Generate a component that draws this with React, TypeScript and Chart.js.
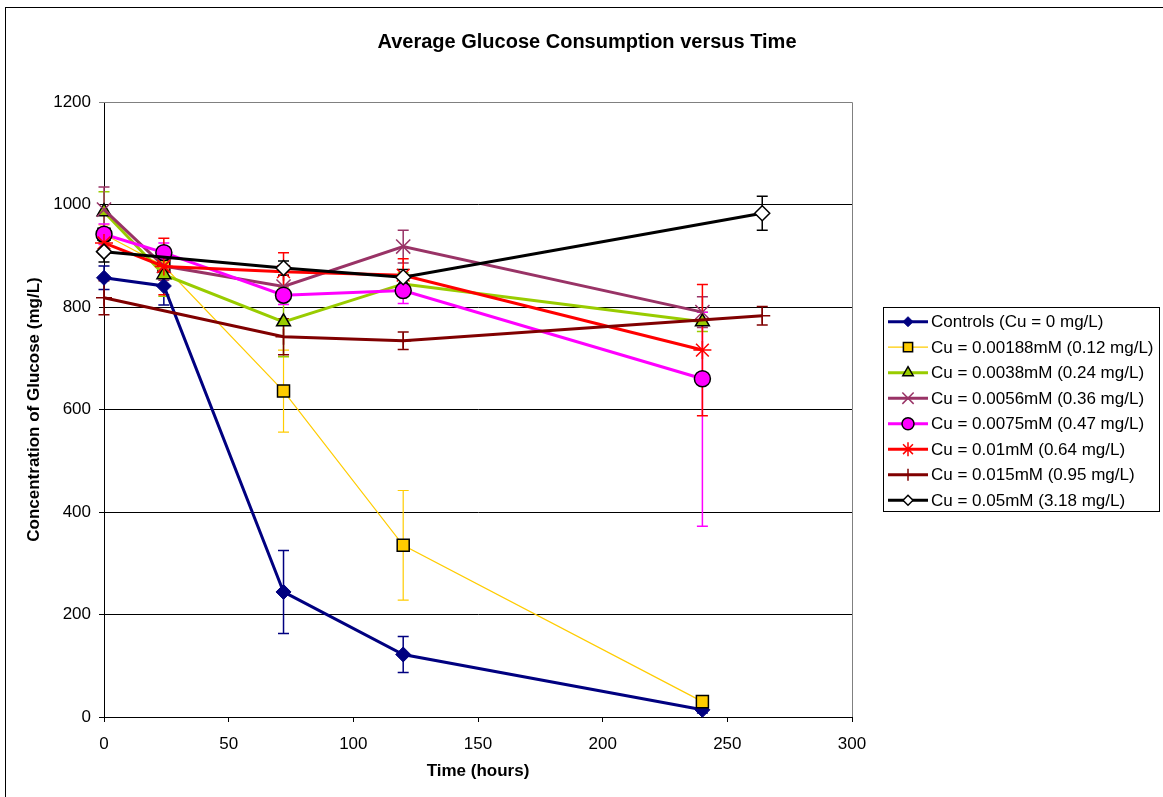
import React, { useEffect, useRef } from 'react';
import { Chart, registerables } from 'chart.js';
import { drawPoint } from 'chart.js/helpers';

Chart.register(...registerables);

const FONT = "'Liberation Sans', Arial, sans-serif";

const chartTitle = 'Average Glucose Consumption versus Time';
const xTitle = 'Time (hours)';
const yTitle = 'Concentration of Glucose (mg/L)';

const xTickMax = 300;
const xTickStep = 50;
const yTickMax = 1200;
const yTickStep = 200;

const timesMain = [0, 24, 72, 120, 240];
const timesDarkRed = [0, 72, 120, 264];
const timesBlack = [0, 72, 120, 264];

const controls = [857, 841, 244, 122, 14];
const controlsErr = [23, 37, 81, 35, 6];
const cu00188 = [942, 880, 636, 335, 30];
const cu00188Err = [18, 22, 80, 107, 6];
const cu0038 = [986, 863, 771, 845, 771];
const cu0038Err = [39, 42, 68, 22, 19];
const cu0056 = [990, 880, 840, 918, 790];
const cu0056Err = [44, 28, 22, 32, 30];
const cu0075 = [942, 906, 823, 832, 660];
const cu0075ErrUp = [20, 19, 18, 25, 130];
const cu0075ErrDown = [20, 19, 18, 25, 288];
const cu01 = [925, 879, 869, 862, 716];
const cu01Err = [22, 55, 37, 32, 128];
const cu015 = [818, 742, 734, 783];
const cu015Err = [33, 35, 17, 18];
const cu05 = [908, 876, 858, 983];
const cu05Err = [20, 14, 15, 33];

const seriesLabels = [
  'Controls (Cu = 0 mg/L)',
  'Cu = 0.00188mM (0.12 mg/L)',
  'Cu = 0.0038mM (0.24 mg/L)',
  'Cu = 0.0056mM (0.36 mg/L)',
  'Cu = 0.0075mM (0.47 mg/L)',
  'Cu = 0.01mM (0.64 mg/L)',
  'Cu = 0.015mM (0.95 mg/L)',
  'Cu = 0.05mM (3.18 mg/L)',
];

type Series = {
  label: string;
  xs: number[];
  ys: number[];
  up: number[];
  down: number[];
  color: string;
  lineWidth: number;
  errWidth: number;
  pointStyle: string;
  radius: number;
  legendRadius: number;
  bg: string;
  border: string;
  borderW: number;
};

const series: Series[] = [
  { label: seriesLabels[0], xs: timesMain, ys: controls, up: controlsErr, down: controlsErr, color: '#000080', lineWidth: 3, errWidth: 1.5, pointStyle: 'rectRot', radius: 7.5, legendRadius: 5, bg: '#000080', border: '#000080', borderW: 1 },
  { label: seriesLabels[1], xs: timesMain, ys: cu00188, up: cu00188Err, down: cu00188Err, color: '#FFCC00', lineWidth: 1.2, errWidth: 1.2, pointStyle: 'rect', radius: 8.5, legendRadius: 6.5, bg: '#FFCC00', border: '#000000', borderW: 1.5 },
  { label: seriesLabels[2], xs: timesMain, ys: cu0038, up: cu0038Err, down: cu0038Err, color: '#99CC00', lineWidth: 3, errWidth: 1.5, pointStyle: 'triangle', radius: 8, legendRadius: 6, bg: '#99CC00', border: '#000000', borderW: 1.5 },
  { label: seriesLabels[3], xs: timesMain, ys: cu0056, up: cu0056Err, down: cu0056Err, color: '#993366', lineWidth: 3, errWidth: 1.5, pointStyle: 'crossRot', radius: 10, legendRadius: 8, bg: '#993366', border: '#993366', borderW: 1.5 },
  { label: seriesLabels[4], xs: timesMain, ys: cu0075, up: cu0075ErrUp, down: cu0075ErrDown, color: '#FF00FF', lineWidth: 3, errWidth: 1.5, pointStyle: 'circle', radius: 8, legendRadius: 6, bg: '#FF00FF', border: '#000000', borderW: 1.5 },
  { label: seriesLabels[5], xs: timesMain, ys: cu01, up: cu01Err, down: cu01Err, color: '#FF0000', lineWidth: 3, errWidth: 1.5, pointStyle: 'star', radius: 9, legendRadius: 7, bg: '#FF0000', border: '#FF0000', borderW: 1.5 },
  { label: seriesLabels[6], xs: timesDarkRed, ys: cu015, up: cu015Err, down: cu015Err, color: '#800000', lineWidth: 3, errWidth: 1.5, pointStyle: 'cross', radius: 8, legendRadius: 6, bg: '#800000', border: '#800000', borderW: 1.5 },
  { label: seriesLabels[7], xs: timesBlack, ys: cu05, up: cu05Err, down: cu05Err, color: '#000000', lineWidth: 3, errWidth: 1.5, pointStyle: 'rectRot', radius: 7.5, legendRadius: 5, bg: '#FFFFFF', border: '#000000', borderW: 1.5 },
];

const CAP = 5.5;

const decorPlugin = {
  id: 'decor',
  beforeDatasetsDraw(chart: any) {
    const { ctx, chartArea } = chart;
    const yScale = chart.scales.y;
    ctx.save();
    ctx.strokeStyle = '#808080';
    ctx.lineWidth = 1;
    ctx.beginPath();
    ctx.moveTo(chartArea.left, Math.round(chartArea.top) + 0.5);
    ctx.lineTo(Math.round(chartArea.right) + 0.5, Math.round(chartArea.top) + 0.5);
    ctx.lineTo(Math.round(chartArea.right) + 0.5, chartArea.bottom);
    ctx.stroke();
    series.forEach((s, di) => {
      const meta = chart.getDatasetMeta(di);
      ctx.strokeStyle = s.color;
      ctx.lineWidth = s.errWidth;
      meta.data.forEach((el: any, i: number) => {
        const v = s.ys[i];
        const yTop = yScale.getPixelForValue(v + s.up[i]);
        const yBot = yScale.getPixelForValue(v - s.down[i]);
        const x = el.x;
        ctx.beginPath();
        ctx.moveTo(x, yTop);
        ctx.lineTo(x, yBot);
        ctx.moveTo(x - CAP, yTop);
        ctx.lineTo(x + CAP, yTop);
        ctx.moveTo(x - CAP, yBot);
        ctx.lineTo(x + CAP, yBot);
        ctx.stroke();
      });
    });
    ctx.restore();
  },
  afterDraw(chart: any) {
    const { ctx } = chart;
    ctx.save();
    ctx.strokeStyle = '#000000';
    ctx.lineWidth = 1;
    ctx.strokeRect(5.5, 7.5, 1170, 800);
    ctx.fillStyle = '#000000';
    ctx.font = `bold 20px ${FONT}`;
    ctx.textAlign = 'center';
    ctx.textBaseline = 'middle';
    ctx.fillText(chartTitle, 587, 42);
    const lx = 883.5, ly = 307.5, lw = 276, lh = 204;
    ctx.strokeRect(lx, ly, lw, lh);
    ctx.font = `17px ${FONT}`;
    ctx.textAlign = 'left';
    series.forEach((s, i) => {
      const y = 321.7 + i * 25.5;
      ctx.strokeStyle = s.color;
      ctx.lineWidth = s.lineWidth;
      ctx.beginPath();
      ctx.moveTo(888, y);
      ctx.lineTo(928, y);
      ctx.stroke();
      ctx.fillStyle = s.bg;
      ctx.strokeStyle = s.border;
      ctx.lineWidth = s.borderW;
      drawPoint(ctx, { pointStyle: s.pointStyle as any, rotation: 0, radius: s.legendRadius, borderWidth: s.borderW }, 908, y);
      ctx.fillStyle = '#000000';
      ctx.fillText(s.label, 931, y + 1);
    });
    ctx.restore();
  },
};

export default function App() {
  const ref = useRef<HTMLCanvasElement>(null);
  useEffect(() => {
    if (!ref.current) return;
    const datasets = series.map((s, i) => ({
      label: s.label,
      data: s.xs.map((x, j) => ({ x, y: s.ys[j] })),
      borderColor: s.color,
      borderWidth: s.lineWidth,
      backgroundColor: s.bg,
      pointBackgroundColor: s.bg,
      pointBorderColor: s.border,
      pointBorderWidth: s.borderW,
      pointStyle: s.pointStyle,
      pointRadius: s.radius,
      tension: 0,
      fill: false,
      clip: false as any,
      order: series.length - i,
    }));
    const chart = new Chart(ref.current, {
      type: 'line',
      data: { datasets },
      plugins: [decorPlugin],
      options: {
        animation: false,
        responsive: false,
        devicePixelRatio: 1,
        layout: { padding: { left: 5, top: 102, right: 311, bottom: 10 } },
        plugins: {
          legend: { display: false },
          title: { display: false },
          tooltip: { enabled: false },
        },
        scales: {
          x: {
            type: 'linear',
            min: 0,
            max: xTickMax,
            afterFit: (scale: any) => { scale.height = 70; },
            ticks: { stepSize: xTickStep, color: '#000', font: { family: FONT, size: 17 }, padding: 12, maxRotation: 0, callback: (v: any) => String(v) },
            grid: { drawOnChartArea: false, drawTicks: true, tickLength: 5, color: '#000' },
            border: { color: '#000', width: 1 },
            title: { display: true, text: xTitle, color: '#000', font: { family: FONT, size: 17, weight: 'bold' }, padding: { top: 0, bottom: 5 } },
          },
          y: {
            type: 'linear',
            min: 0,
            max: yTickMax,
            afterFit: (scale: any) => { scale.width = 99; },
            ticks: { stepSize: yTickStep, color: '#000', font: { family: FONT, size: 17 }, padding: 8, callback: (v: any) => String(v) },
            grid: {
              drawTicks: true,
              tickLength: 5,
              color: (c: any) => (c.tick && c.tick.value === yTickMax ? '#808080' : '#000'),
            },
            border: { color: '#000', width: 1 },
            title: { display: true, text: yTitle, color: '#000', font: { family: FONT, size: 17, weight: 'bold' }, padding: { top: 19, bottom: 0 } },
          },
        },
      } as any,
    });
    return () => chart.destroy();
  }, []);
  return (
    <div style={{ position: 'absolute', left: 0, top: 0, width: 1163, height: 797, background: '#fff' }}>
      <canvas ref={ref} width={1163} height={797} style={{ display: 'block' }} />
    </div>
  );
}
